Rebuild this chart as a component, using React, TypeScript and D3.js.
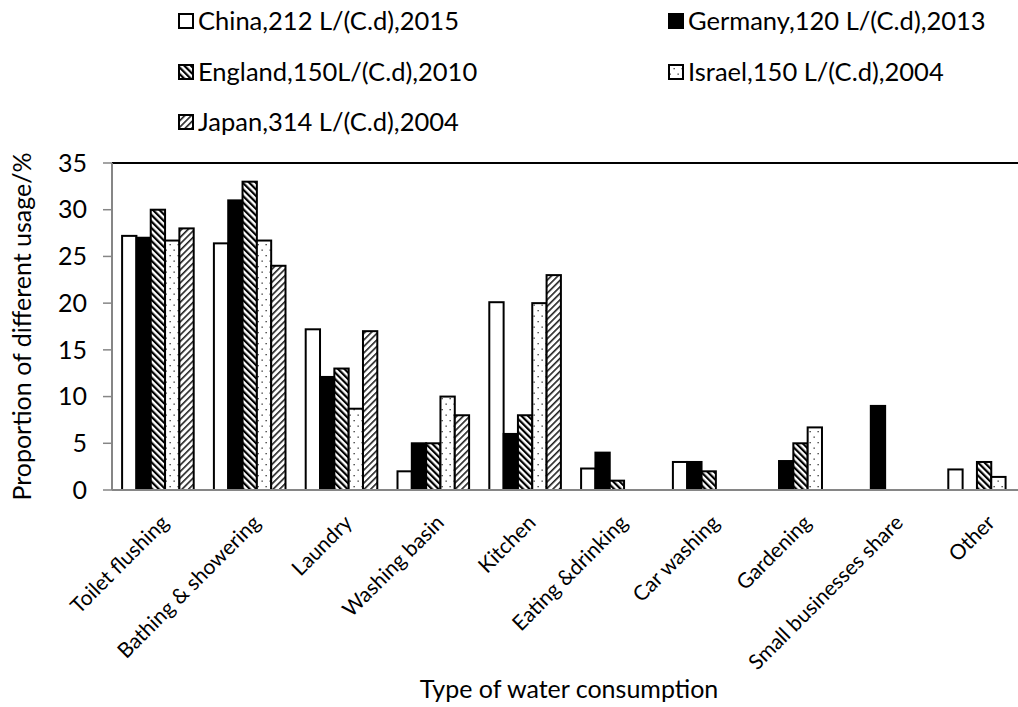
import React from "react";
import * as d3 from "d3";

const categories = [
  "Toilet flushing",
  "Bathing & showering",
  "Laundry",
  "Washing basin",
  "Kitchen",
  "Eating &drinking",
  "Car washing",
  "Gardening",
  "Small businesses share",
  "Other",
];

const seriesNames = [
  "China,212 L/(C.d),2015",
  "Germany,120 L/(C.d),2013",
  "England,150L/(C.d),2010",
  "Israel,150 L/(C.d),2004",
  "Japan,314 L/(C.d),2004",
];

const china = [27.2, 26.4, 17.2, 2.0, 20.1, 2.3, 3.0, 0, 0, 2.2];
const germany = [27.0, 31.0, 12.1, 5.0, 6.0, 4.0, 3.0, 3.1, 9.0, 0];
const england = [30.0, 33.0, 13.0, 5.0, 8.0, 1.0, 2.0, 5.0, 0, 3.0];
const israel = [26.7, 26.7, 8.7, 10.0, 20.0, 0, 0, 6.7, 0, 1.4];
const japan = [28.0, 24.0, 17.0, 8.0, 23.0, 0, 0, 0, 0, 0];

const seriesValues = [china, germany, england, israel, japan];
const yTicks = [0, 5, 10, 15, 20, 25, 30, 35];

const fills = ["#ffffff", "#000000", "url(#patEngland)", "url(#patIsrael)", "url(#patJapan)"];

const FONT = "Lato, 'Open Sans', sans-serif";

export default function App() {
  const W = 1018;
  const H = 707;
  const left = 112;
  const right = 1030;
  const top = 163;
  const bottom = 490;

  const x = d3.scaleBand<string>().domain(categories).range([left, right]).padding(0);
  const inner = d3
    .scaleBand<number>()
    .domain(d3.range(seriesNames.length))
    .range([10.1, x.bandwidth() - 10.1])
    .padding(0);
  const y = d3.scaleLinear().domain([0, 35]).range([bottom, top]);

  const legendPos = [
    { x: 179, y: 21 },
    { x: 669, y: 21 },
    { x: 179, y: 72 },
    { x: 669, y: 72 },
    { x: 179, y: 122 },
  ];

  return (
    <svg width={W} height={H} style={{ position: "absolute", left: 0, top: 0, background: "#fff" }}>
      <defs>
        <pattern id="patEngland" patternUnits="userSpaceOnUse" width="4.6" height="4.6" patternTransform="rotate(-45)">
          <rect width="4.6" height="4.6" fill="#fff" />
          <rect x="0" y="0" width="2.2" height="4.6" fill="#000" />
        </pattern>
        <pattern id="patJapan" patternUnits="userSpaceOnUse" width="4.6" height="4.6" patternTransform="rotate(45)">
          <rect width="4.6" height="4.6" fill="#fff" />
          <rect x="0" y="0" width="1.6" height="4.6" fill="#222" />
        </pattern>
        <pattern id="patIsrael" patternUnits="userSpaceOnUse" width="8" height="11">
          <rect width="8" height="11" fill="#fff" />
          <rect x="1.5" y="2" width="1.3" height="1.3" fill="#333" />
          <rect x="5.5" y="7.5" width="1.3" height="1.3" fill="#333" />
        </pattern>
      </defs>

      {/* top border line */}
      <line x1={left} x2={W} y1={top} y2={top} stroke="#000" strokeWidth={2} />

      {/* bars */}
      {seriesValues.map((vals, si) =>
        vals.map((v, ci) =>
          v > 0 ? (
            <rect
              key={`${si}-${ci}`}
              x={(x(categories[ci]) as number) + (inner(si) as number)}
              y={y(v)}
              width={inner.bandwidth()}
              height={y(0) - y(v)}
              fill={fills[si]}
              stroke="#000"
              strokeWidth={2}
            />
          ) : null
        )
      )}

      {/* y axis */}
      <line x1={left} x2={left} y1={top} y2={bottom} stroke="#868686" strokeWidth={2} />
      {yTicks.map((t) => (
        <g key={t}>
          <line x1={left - 9} x2={left} y1={y(t)} y2={y(t)} stroke="#868686" strokeWidth={1.5} />
          <text
            x={left - 25}
            y={y(t)}
            dy="0.35em"
            textAnchor="end"
            fontFamily={FONT}
            fontSize={25}
            fill="#000"
          >
            {t}
          </text>
        </g>
      ))}

      {/* x axis */}
      <line x1={left} x2={W} y1={bottom} y2={bottom} stroke="#868686" strokeWidth={2} />
      {categories.map((c) => {
        const cx = (x(c) as number) + x.bandwidth() / 2;
        return (
          <text
            key={c}
            transform={`translate(${cx + 12},${524}) rotate(-45)`}
            textAnchor="end"
            fontFamily={FONT}
            fontSize={21}
            fill="#000"
          >
            {c}
          </text>
        );
      })}

      {/* axis titles */}
      <text
        transform={`translate(${31},${(top + bottom) / 2}) rotate(-90)`}
        textAnchor="middle"
        fontFamily={FONT}
        fontSize={25}
        fill="#000"
      >
        Proportion of different usage/%
      </text>
      <text x={569} y={698} textAnchor="middle" fontFamily={FONT} fontSize={25} fill="#000">
        Type of water consumption
      </text>

      {/* legend */}
      {seriesNames.map((n, i) => (
        <g key={n}>
          <rect
            x={legendPos[i].x}
            y={legendPos[i].y - 7}
            width={14}
            height={14}
            fill={fills[i]}
            stroke="#000"
            strokeWidth={2}
          />
          <text
            x={legendPos[i].x + 19}
            y={legendPos[i].y}
            dy="0.36em"
            fontFamily={FONT}
            fontSize={25.5}
            fill="#000"
          >
            {n}
          </text>
        </g>
      ))}
    </svg>
  );
}
